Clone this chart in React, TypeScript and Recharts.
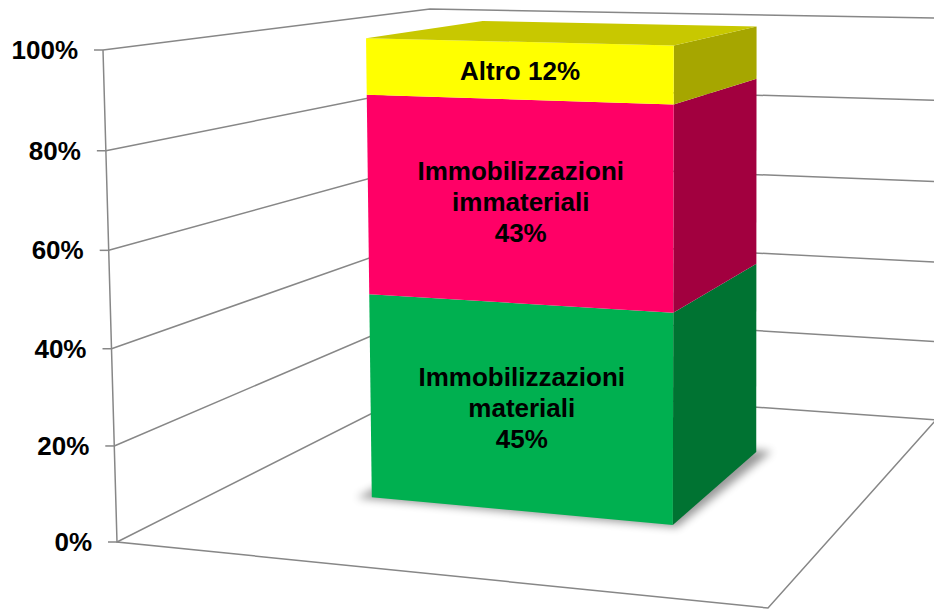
import React from "react";
import { BarChart, Bar, XAxis, YAxis, CartesianGrid } from "recharts";

const CATEGORIES = ["Attivo immobilizzato"];
const SERIES_NAMES = ["Immobilizzazioni materiali", "Immobilizzazioni immateriali", "Altro"];
const SERIES_VALUES = [45, 43, 12];
const Y_TICKS = [0, 20, 40, 60, 80, 100];

const FRONT = ["#00B050", "#FF0066", "#FFFF00"];
const SIDE = ["#007332", "#A2003F", "#A6A600"];
const TOP = ["#009A45", "#C8004F", "#C8C800"];

const W = 934;
const H = 609;
const AXIS_W = 120;
const MARGIN = { top: 50, right: 214, bottom: 67, left: 0 };
const PLOT_X = MARGIN.left + AXIS_W;
const PLOT_W = W - MARGIN.right - PLOT_X;
const PLOT_Y = MARGIN.top;
const PLOT_H = H - MARGIN.top - MARGIN.bottom;

// corners of the 3D box: key = u (left→right), v (value), w (front→back)
const CORNERS: Record<string, number[]> = {
  "000": [117, 542],
  "100": [768, 608],
  "001": [430, 384],
  "101": [936, 420],
  "010": [103, 50],
  "110": [775, 67],
  "011": [430, 9],
  "111": [936, 18],
};
const DEPTH0 = 0.365;
const DEPTH1 = 0.77;
const GRID = "#878787";

// trilinear mapping plus a small bend so the value axis looks like perspective
function P(u: number, v0: number, w: number) {
  const v = v0 - 0.03 * v0 * (1 - v0);
  let x = 0;
  let y = 0;
  for (const a of [0, 1])
    for (const b of [0, 1])
      for (const c of [0, 1]) {
        const k = (a ? u : 1 - u) * (b ? v : 1 - v) * (c ? w : 1 - w);
        const p = CORNERS[`${a}${b}${c}`];
        x += k * p[0];
        y += k * p[1];
      }
  return [x, y];
}
const pts = (arr: number[][]) => arr.map((p) => `${p[0]},${p[1]}`).join(" ");
const toV = (py: number) => (PLOT_Y + PLOT_H - py) / PLOT_H;

const data = CATEGORIES.map((c) => {
  const row: any = { name: c };
  SERIES_VALUES.forEach((v, i) => (row[`s${i}`] = v));
  return row;
});

function labelLines(i: number) {
  const words = SERIES_NAMES[i].split(" ");
  const pct = `${SERIES_VALUES[i]}%`;
  return words.length > 1 ? [...words, pct] : [`${words[0]} ${pct}`];
}

function Box3D(props: any) {
  const { x, y, width, height, s } = props;
  const u0 = (x - PLOT_X) / PLOT_W;
  const u1 = (x + width - PLOT_X) / PLOT_W;
  const v1 = toV(y);
  const v0 = toV(y + height);
  const last = s === SERIES_VALUES.length - 1;
  const front = [P(u0, v0, DEPTH0), P(u1, v0, DEPTH0), P(u1, v1, DEPTH0), P(u0, v1, DEPTH0)];
  const side = [P(u1, v0, DEPTH0), P(u1, v0, DEPTH1), P(u1, v1, DEPTH1), P(u1, v1, DEPTH0)];
  const top = [P(u0, v1, DEPTH0), P(u1, v1, DEPTH0), P(u1, v1, DEPTH1), P(u0, v1, DEPTH1)];
  const c = P((u0 + u1) / 2, (v0 + v1) / 2, DEPTH0);
  const lines = labelLines(s);
  return (
    <g>
      {s === 0 && (
        <polygon
          points={pts([
            P(u0 - 0.02, 0, DEPTH0 - 0.01),
            P(u1 + 0.01, 0, DEPTH0 - 0.01),
            P(u1 + 0.025, 0, DEPTH1 + 0.01),
            P(u0, 0, DEPTH1),
          ])}
          fill="#000"
          opacity={0.4}
          filter="url(#soft)"
        />
      )}
      <polygon points={pts(side)} fill={SIDE[s]} />
      <polygon points={pts(front)} fill={FRONT[s]} />
      {last && <polygon points={pts(top)} fill={TOP[s]} />}
      {lines.map((t, i) => (
        <text
          key={i}
          x={c[0]}
          y={c[1] + (i - (lines.length - 1) / 2) * 31}
          textAnchor="middle"
          dominantBaseline="central"
          fontSize={26}
          fontWeight="bold"
          fill="#000"
          fontFamily="'Liberation Sans', Arial, sans-serif"
        >
          {t}
        </text>
      ))}
    </g>
  );
}

function gridLine(p: any) {
  const v = toV(p.y1);
  const wall = [P(0, v, 0), P(0, v, 1), P(1, v, 1)];
  return (
    <g key={`grid-${p.index}`}>
      <polyline points={pts(wall)} fill="none" stroke={GRID} strokeWidth={1.5} />
      {v < 0.001 && (
        <polyline
          points={pts([P(0, 1, 0), P(0, 0, 0), P(1, 0, 0), P(1, 0, 1)])}
          fill="none"
          stroke={GRID}
          strokeWidth={1.5}
        />
      )}
    </g>
  );
}

function YTick(p: any) {
  const [x, y] = P(0, toV(p.y), 0);
  return (
    <g>
      <line x1={x - 9} y1={y} x2={x} y2={y} stroke={GRID} strokeWidth={1.5} />
      <text
        x={x - 25}
        y={y}
        textAnchor="end"
        dominantBaseline="central"
        fontSize={26}
        fontWeight="bold"
        fill="#000"
        fontFamily="'Liberation Sans', Arial, sans-serif"
      >
        {`${p.payload.value}%`}
      </text>
    </g>
  );
}

export default function App() {
  return (
    <div style={{ position: "absolute", left: 0, top: 0, width: W, height: H, background: "#fff" }}>
      <BarChart width={W} height={H} data={data} margin={MARGIN} barSize={302}>
        <defs>
          <filter id="soft" x="-20%" y="-20%" width="140%" height="140%">
            <feGaussianBlur stdDeviation="4" />
          </filter>
        </defs>
        <CartesianGrid vertical={false} horizontal={gridLine} />
        <XAxis dataKey="name" hide padding={{ left: 0, right: 16 }} />
        <YAxis
          width={AXIS_W}
          domain={[0, 100]}
          ticks={Y_TICKS}
          axisLine={false}
          tickLine={false}
          tick={<YTick />}
        />
        {SERIES_VALUES.map((_, i) => (
          <Bar
            key={i}
            dataKey={`s${i}`}
            name={SERIES_NAMES[i]}
            stackId="a"
            isAnimationActive={false}
            shape={(p: any) => <Box3D {...p} s={i} />}
          />
        ))}
      </BarChart>
    </div>
  );
}
